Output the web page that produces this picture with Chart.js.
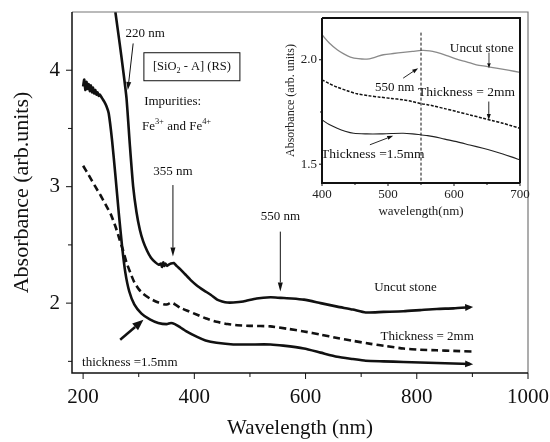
<!DOCTYPE html>
<html><head><meta charset="utf-8">
<script src="https://cdn.jsdelivr.net/npm/chart.js"></script>
<style>
html,body{margin:0;padding:0;background:#fff;}
#wrap{position:relative;width:550px;height:442px;overflow:hidden;}
#main{position:absolute;left:0;top:0;}
#inset{position:absolute;left:280px;top:13px;}
</style></head><body>
<div id="wrap"><canvas id="main" width="550" height="442"></canvas><canvas id="inset" width="252" height="210"></canvas></div>
<script>
// ---------------- main chart data ----------------
const xTickLabels = [200, 400, 600, 800, 1000];
const yTickLabels = [2, 3, 4];

const uncutWl  = [258, 266, 272, 278, 284, 290, 296, 302, 308, 315, 322, 330, 336, 340, 342, 344, 346, 348, 351, 354, 358, 363, 368, 375, 383, 393, 405, 417, 430, 441, 450, 459, 470, 488, 512, 537, 555, 575, 597, 627, 657, 685, 708, 740, 776, 806, 836, 866, 896];
const uncutAbs = [4.50, 4.22, 4.00, 3.76, 3.36, 3.00, 2.78, 2.63, 2.53, 2.45, 2.39, 2.35, 2.33, 2.34, 2.31, 2.35, 2.32, 2.34, 2.32, 2.33, 2.34, 2.345, 2.32, 2.29, 2.25, 2.20, 2.15, 2.11, 2.07, 2.03, 2.015, 2.005, 2.005, 2.014, 2.04, 2.05, 2.045, 2.04, 2.03, 2.00, 1.97, 1.945, 1.92, 1.925, 1.93, 1.94, 1.95, 1.955, 1.965];

const t2Wl  = [200, 210, 222, 232, 240, 250, 258, 266, 272, 278, 285, 292, 300, 308, 320, 333, 345, 352, 358, 365, 375, 390, 405, 420, 440, 460, 477, 500, 537, 567, 597, 627, 657, 687, 717, 746, 776, 806, 836, 866, 900];
const t2Abs = [3.18, 3.10, 3.00, 2.92, 2.85, 2.76, 2.66, 2.54, 2.45, 2.35, 2.26, 2.18, 2.12, 2.08, 2.04, 2.01, 1.99, 1.99, 2.005, 1.99, 1.96, 1.93, 1.90, 1.87, 1.84, 1.82, 1.81, 1.805, 1.80, 1.78, 1.757, 1.73, 1.70, 1.675, 1.65, 1.63, 1.61, 1.60, 1.595, 1.59, 1.585];

const t15Wl  = [200, 202, 204, 206, 208, 210, 212, 214, 216, 218, 220, 222, 224, 226, 228, 230, 234, 238, 242, 246, 252, 258, 264, 270, 276, 283, 292, 305, 320, 335, 350, 358, 365, 372, 385, 405, 420, 440, 470, 500, 537, 560, 597, 627, 657, 685, 708, 740, 776, 806, 836, 866, 896];
const t15Abs = [3.86, 3.92, 3.83, 3.90, 3.84, 3.88, 3.82, 3.87, 3.81, 3.85, 3.80, 3.83, 3.79, 3.81, 3.78, 3.79, 3.76, 3.73, 3.69, 3.63, 3.40, 3.10, 2.78, 2.49, 2.26, 2.10, 1.99, 1.91, 1.86, 1.83, 1.82, 1.83, 1.82, 1.80, 1.76, 1.71, 1.68, 1.66, 1.645, 1.645, 1.645, 1.635, 1.61, 1.575, 1.54, 1.52, 1.505, 1.50, 1.495, 1.49, 1.486, 1.482, 1.477];

// ---------------- inset data ----------------
const insetXTicks = [400, 500, 600, 700];
const insetYTicks = [1.5, 2.0];
const inUncutWl  = [400, 411, 423, 433, 443, 455, 468, 480, 493, 508, 523, 537, 551, 563, 574, 589, 604, 619, 634, 649, 664, 682, 700];
const inUncutAbs = [2.12, 2.08, 2.048, 2.028, 2.013, 2.005, 2.003, 2.012, 2.024, 2.03, 2.035, 2.04, 2.045, 2.043, 2.035, 2.02, 2.003, 1.99, 1.976, 1.968, 1.96, 1.95, 1.94];
const inT2Wl  = [400, 411, 423, 438, 453, 470, 488, 505, 523, 537, 551, 560, 569, 586, 604, 624, 644, 659, 674, 687, 700];
const inT2Abs = [1.904, 1.886, 1.869, 1.852, 1.837, 1.828, 1.821, 1.815, 1.808, 1.80, 1.789, 1.785, 1.779, 1.766, 1.752, 1.736, 1.72, 1.708, 1.696, 1.684, 1.672];
const inT15Wl  = [400, 411, 423, 435, 448, 468, 488, 505, 523, 537, 551, 560, 569, 586, 604, 624, 644, 659, 674, 687, 700];
const inT15Abs = [1.712, 1.69, 1.672, 1.658, 1.648, 1.645, 1.645, 1.647, 1.648, 1.645, 1.64, 1.637, 1.632, 1.62, 1.608, 1.592, 1.576, 1.563, 1.549, 1.535, 1.52];

const FAM = "'Liberation Serif', 'Times New Roman', serif";
const zip = (xs, ys) => xs.map((v, i) => ({x: v, y: ys[i]}));
const noPad = s => { s.paddingTop = 0; s.paddingBottom = 0; s.paddingLeft = 0; s.paddingRight = 0; };

// -------- helpers --------
function drawRich(ctx, segs, x, y, align, size) {
  ctx.textBaseline = 'middle';
  ctx.textAlign = 'left';
  let w = 0;
  const pieces = segs.map(s => {
    const fs = s.k === 'n' ? size : size * 0.65;
    ctx.font = fs + 'px ' + FAM;
    const pw = ctx.measureText(s.t).width;
    w += pw;
    return {t: s.t, fs, pw, dy: s.k === 'sub' ? size * 0.3 : (s.k === 'sup' ? -size * 0.3 : 0)};
  });
  let cx = align === 'center' ? x - w / 2 : (align === 'right' ? x - w : x);
  for (const p of pieces) {
    ctx.font = p.fs + 'px ' + FAM;
    ctx.fillText(p.t, cx, y + p.dy);
    cx += p.pw;
  }
  return w;
}
function arrow(ctx, x1, y1, x2, y2, lw, hl, hw) {
  ctx.lineWidth = lw;
  const a = Math.atan2(y2 - y1, x2 - x1);
  const bx = x2 - hl * Math.cos(a), by = y2 - hl * Math.sin(a);
  ctx.beginPath(); ctx.moveTo(x1, y1); ctx.lineTo(bx, by); ctx.stroke();
  ctx.beginPath();
  ctx.moveTo(x2, y2);
  ctx.lineTo(bx + hw * Math.sin(a), by - hw * Math.cos(a));
  ctx.lineTo(bx - hw * Math.sin(a), by + hw * Math.cos(a));
  ctx.closePath(); ctx.fill();
}
function framePlugin(cfg) {
  return {
    id: 'frame',
    afterDraw(chart) {
      const {ctx, chartArea: a, scales: {x, y}} = chart;
      ctx.save();
      ctx.strokeStyle = cfg.otherColor; ctx.lineWidth = cfg.otherWidth;
      ctx.beginPath(); ctx.moveTo(a.left, a.top); ctx.lineTo(a.right, a.top); ctx.lineTo(a.right, a.bottom); ctx.stroke();
      ctx.strokeStyle = '#111'; ctx.lineWidth = cfg.axisWidth;
      ctx.beginPath(); ctx.moveTo(a.left, a.top); ctx.lineTo(a.left, a.bottom); ctx.lineTo(a.right, a.bottom); ctx.stroke();
      ctx.lineWidth = 1;
      for (const t of cfg.xMajor) { const px = x.getPixelForValue(t); ctx.beginPath(); ctx.moveTo(px, a.bottom); ctx.lineTo(px, a.bottom + cfg.major); ctx.stroke(); }
      for (const t of cfg.xMinor) { const px = x.getPixelForValue(t); ctx.beginPath(); ctx.moveTo(px, a.bottom); ctx.lineTo(px, a.bottom + cfg.minor); ctx.stroke(); }
      for (const t of cfg.yMajor) { const py = y.getPixelForValue(t); ctx.beginPath(); ctx.moveTo(a.left, py); ctx.lineTo(a.left - cfg.major, py); ctx.stroke(); }
      for (const t of cfg.yMinor) { const py = y.getPixelForValue(t); ctx.beginPath(); ctx.moveTo(a.left, py); ctx.lineTo(a.left - cfg.minor, py); ctx.stroke(); }
      ctx.restore();
    }
  };
}
function annotPlugin(items) {
  return {
    id: 'annot',
    afterDatasetsDraw(chart) {
      const {ctx, scales: {x, y}} = chart;
      ctx.save();
      ctx.fillStyle = '#111'; ctx.strokeStyle = '#111';
      for (const it of items) {
        if (it.type === 'text') {
          const w = drawRich(ctx, it.segs, x.getPixelForValue(it.x), y.getPixelForValue(it.y), it.align || 'center', it.size);
          if (it.box) {
            const cx = x.getPixelForValue(it.x), cy = y.getPixelForValue(it.y);
            ctx.lineWidth = 1;
            ctx.strokeRect(cx - w / 2 - it.box[0], cy - it.box[1], w + 2 * it.box[0], 2 * it.box[1]);
          }
        } else if (it.type === 'arrow') {
          arrow(ctx, x.getPixelForValue(it.x1), y.getPixelForValue(it.y1), x.getPixelForValue(it.x2), y.getPixelForValue(it.y2), it.lw, it.hl, it.hw);
        } else if (it.type === 'endArrow') {
          const d = chart.data.datasets[it.ds].data; const n = d.length;
          const p1 = d[n - 3], p2 = d[n - 1];
          const x2 = x.getPixelForValue(p2.x), y2 = y.getPixelForValue(p2.y);
          const x1 = x.getPixelForValue(p1.x), y1 = y.getPixelForValue(p1.y);
          const a = Math.atan2(y2 - y1, x2 - x1);
          arrow(ctx, x2 - 4 * Math.cos(a), y2 - 4 * Math.sin(a), x2 + 3 * Math.cos(a), y2 + 3 * Math.sin(a), 1, 8, 3.5);
        } else if (it.type === 'vdash') {
          ctx.lineWidth = 1; ctx.setLineDash([3, 2]);
          const px = x.getPixelForValue(it.x);
          ctx.beginPath(); ctx.moveTo(px, y.getPixelForValue(it.y1)); ctx.lineTo(px, y.getPixelForValue(it.y2)); ctx.stroke();
          ctx.setLineDash([]);
        }
      }
      ctx.restore();
    }
  };
}
const N = t => [{t, k: 'n'}];

// ---------------- main chart ----------------
const mainAnnots = [
  {type: 'text', x: 311.6, y: 4.316, segs: N('220 nm'), size: 13},
  {type: 'arrow', x1: 290, y1: 4.23, x2: 280.4, y2: 3.83, lw: 1, hl: 8, hw: 2.5},
  {type: 'text', x: 395.6, y: 4.03, segs: [{t: '[SiO', k: 'n'}, {t: '2', k: 'sub'}, {t: ' - A] (RS)', k: 'n'}], size: 12.5, box: [9, 14]},
  {type: 'text', x: 309.8, y: 3.727, segs: N('Impurities:'), size: 13, align: 'left'},
  {type: 'text', x: 305.7, y: 3.52, segs: [{t: 'Fe', k: 'n'}, {t: '3+', k: 'sup'}, {t: ' and Fe', k: 'n'}, {t: '4+', k: 'sup'}], size: 13, align: 'left'},
  {type: 'text', x: 361.5, y: 3.128, segs: N('355 nm'), size: 13},
  {type: 'arrow', x1: 361.5, y1: 3.014, x2: 361.5, y2: 2.40, lw: 1, hl: 9, hw: 2.5},
  {type: 'text', x: 554.6, y: 2.74, segs: N('550 nm'), size: 13},
  {type: 'arrow', x1: 554.6, y1: 2.614, x2: 554.6, y2: 2.10, lw: 1, hl: 9, hw: 2.5},
  {type: 'text', x: 779.6, y: 2.131, segs: N('Uncut stone'), size: 13},
  {type: 'text', x: 818.6, y: 1.714, segs: N('Thickness = 2mm'), size: 13},
  {type: 'text', x: 198.2, y: 1.491, segs: N('thickness =1.5mm'), size: 13, align: 'left'},
  {type: 'arrow', x1: 266.6, y1: 1.686, x2: 308.5, y2: 1.857, lw: 2.5, hl: 11, hw: 4.5},
  {type: 'endArrow', ds: 0},
  {type: 'endArrow', ds: 2}
];

new Chart(document.getElementById('main'), {
  type: 'line',
  data: {datasets: [
    {label: 'Uncut stone', data: zip(uncutWl, uncutAbs), borderColor: '#111', borderWidth: 2.6, pointRadius: 0, fill: false, tension: 0.2},
    {label: 'Thickness = 2mm', data: zip(t2Wl, t2Abs), borderColor: '#111', borderWidth: 2.6, borderDash: [7, 4], pointRadius: 0, fill: false, tension: 0.2},
    {label: 'thickness =1.5mm', data: zip(t15Wl, t15Abs), borderColor: '#111', borderWidth: 2.6, pointRadius: 0, fill: false, tension: 0.2}
  ]},
  options: {
    responsive: false, animation: false, devicePixelRatio: 1,
    layout: {padding: {top: 12, right: 22, left: 0, bottom: 0}},
    plugins: {legend: {display: false}, tooltip: {enabled: false}},
    scales: {
      x: {type: 'linear', min: 180, max: 1000,
        afterBuildTicks: s => { s.ticks = xTickLabels.map(v => ({value: v})); },
        afterFit: s => { s.height = 69; noPad(s); },
        grid: {display: false, drawTicks: false}, border: {display: false},
        ticks: {font: {family: FAM, size: 21}, color: '#111', padding: 12, maxRotation: 0, autoSkip: false, callback: v => String(v)},
        title: {display: true, text: 'Wavelength (nm)', font: {family: FAM, size: 21}, color: '#111', padding: {top: 0, bottom: 1.4}}
      },
      y: {type: 'linear', min: 1.4, max: 4.5,
        afterBuildTicks: s => { s.ticks = yTickLabels.map(v => ({value: v})); },
        afterFit: s => { s.width = 72; noPad(s); },
        grid: {display: false, drawTicks: false}, border: {display: false},
        ticks: {font: {family: FAM, size: 21}, color: '#111', padding: 12, autoSkip: false, callback: v => String(v)},
        title: {display: true, text: 'Absorbance (arb.units)', font: {family: FAM, size: 22}, color: '#111', padding: {top: 8.8, bottom: 0}}
      }
    }
  },
  plugins: [
    framePlugin({otherColor: '#777', otherWidth: 1.2, axisWidth: 1.5, major: 6, minor: 4, xMajor: xTickLabels, xMinor: [300, 500, 700, 900], yMajor: yTickLabels, yMinor: [1.5, 2.5, 3.5]}),
    annotPlugin(mainAnnots)
  ]
});

// ---------------- inset chart ----------------
const insetAnnots = [
  {type: 'vdash', x: 550, y1: 2.13, y2: 1.41},
  {type: 'text', x: 642, y: 2.055, segs: N('Uncut stone'), size: 13.3},
  {type: 'arrow', x1: 653, y1: 2.034, x2: 653, y2: 1.960, lw: 0.8, hl: 5, hw: 1.8},
  {type: 'text', x: 510, y: 1.866, segs: N('550 nm'), size: 13},
  {type: 'arrow', x1: 523, y1: 1.912, x2: 545.7, y2: 1.96, lw: 0.9, hl: 6, hw: 2},
  {type: 'text', x: 619, y: 1.843, segs: N('Thickness = 2mm'), size: 13.5},
  {type: 'arrow', x1: 652.7, y1: 1.80, x2: 652.7, y2: 1.712, lw: 0.9, hl: 6, hw: 2},
  {type: 'text', x: 477, y: 1.545, segs: N('Thickness =1.5mm'), size: 13.5},
  {type: 'arrow', x1: 472.6, y1: 1.593, x2: 507.9, y2: 1.636, lw: 0.9, hl: 6, hw: 2}
];

new Chart(document.getElementById('inset'), {
  type: 'line',
  data: {datasets: [
    {label: 'Uncut stone', data: zip(inUncutWl, inUncutAbs), borderColor: '#8a8a8a', borderWidth: 1.3, pointRadius: 0, fill: false, tension: 0.3},
    {label: 'Thickness = 2mm', data: zip(inT2Wl, inT2Abs), borderColor: '#111', borderWidth: 1.5, borderDash: [3, 1.5], pointRadius: 0, fill: false, tension: 0.3},
    {label: 'Thickness =1.5mm', data: zip(inT15Wl, inT15Abs), borderColor: '#222', borderWidth: 1.1, pointRadius: 0, fill: false, tension: 0.3}
  ]},
  options: {
    responsive: false, animation: false, devicePixelRatio: 1,
    layout: {padding: {top: 5, right: 12, left: 0, bottom: 0}},
    plugins: {legend: {display: false}, tooltip: {enabled: false}},
    scales: {
      x: {type: 'linear', min: 400, max: 700,
        afterBuildTicks: s => { s.ticks = insetXTicks.map(v => ({value: v})); },
        afterFit: s => { s.height = 40; noPad(s); },
        grid: {display: false, drawTicks: false}, border: {display: false},
        ticks: {font: {family: FAM, size: 13}, color: '#222', padding: 4, maxRotation: 0, autoSkip: false, callback: v => String(v)},
        title: {display: true, text: 'wavelength(nm)', font: {family: FAM, size: 13}, color: '#222', padding: {top: 0, bottom: 4}}
      },
      y: {type: 'linear', min: 1.41, max: 2.2,
        afterBuildTicks: s => { s.ticks = insetYTicks.map(v => ({value: v})); },
        afterFit: s => { s.width = 42; noPad(s); },
        grid: {display: false, drawTicks: false}, border: {display: false},
        ticks: {font: {family: FAM, size: 13}, color: '#222', padding: 5, autoSkip: false, callback: v => Number(v).toFixed(1)},
        title: {display: true, text: 'Absorbance (arb. units)', font: {family: FAM, size: 12}, color: '#222', padding: {top: 3.8, bottom: 0}}
      }
    }
  },
  plugins: [
    framePlugin({otherColor: '#111', otherWidth: 2, axisWidth: 2, major: 3, minor: 2, xMajor: insetXTicks, xMinor: [450, 550, 650], yMajor: insetYTicks, yMinor: [1.75]}),
    annotPlugin(insetAnnots)
  ]
});
</script>
</body></html>
